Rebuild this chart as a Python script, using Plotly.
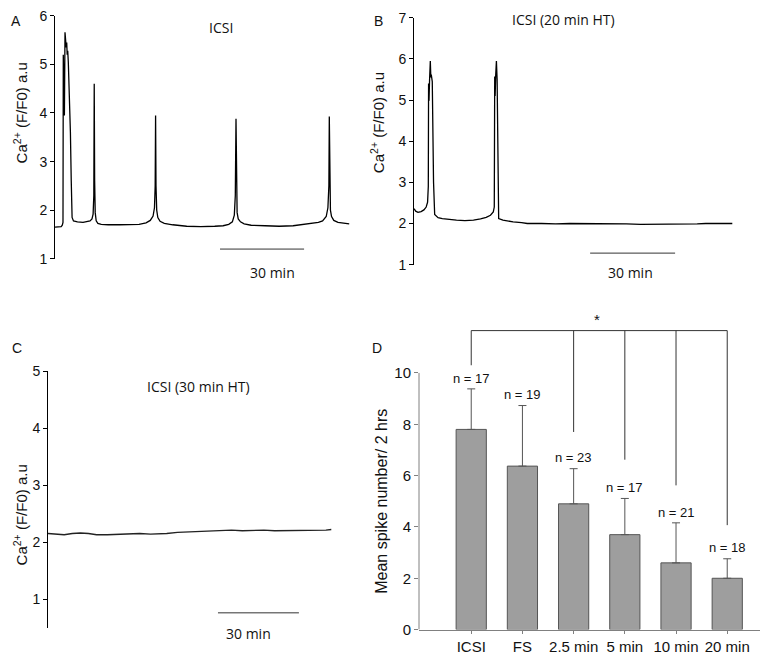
import plotly.graph_objects as go

# ---------------- data ----------------
# Panel A: ICSI trace (time in min, Ca2+ F/F0)
tA = [0, 1.5, 2.2, 2.6, 2.85, 2.96, 3.1, 3.35, 3.57, 3.7, 3.82, 4.0, 4.18, 4.35, 4.54, 4.75,
      5.1, 5.5, 5.8, 6.1, 6.6, 8, 10, 11.5, 12.5, 13.2, 13.6, 13.85, 14.0, 14.15, 14.35, 14.7,
      15.3, 16.5, 19, 23, 27, 30, 32.5, 34, 35, 35.5, 35.75, 35.9, 36.05, 36.3, 36.7, 37.5,
      39, 42, 47, 52, 57, 60, 62, 63.3, 64.0, 64.35, 64.6, 64.8, 65.0, 65.4, 66.2, 67.5,
      70, 75, 80, 85, 88, 91, 94, 95.5, 96.8, 97.4, 97.75, 97.9, 98.05, 98.3, 98.7, 99.5,
      101, 103, 105]
vA = [1.65, 1.65, 1.66, 1.69, 1.75, 5.2, 4.2, 3.95, 5.66, 5.45, 5.6, 5.35, 5.45, 5.2, 5.28, 5.05,
      4.5, 3.6, 2.6, 1.85, 1.78, 1.76, 1.75, 1.76, 1.78, 1.82, 1.92, 2.3, 4.6, 2.6, 1.95, 1.78,
      1.73, 1.71, 1.70, 1.70, 1.70, 1.71, 1.74, 1.79, 1.88, 2.05, 2.5, 3.95, 2.5, 2.0, 1.85, 1.77,
      1.73, 1.70, 1.67, 1.66, 1.67, 1.68, 1.71, 1.76, 1.9, 2.3, 3.88, 2.3, 1.95, 1.82, 1.76, 1.72,
      1.69, 1.68, 1.67, 1.68, 1.70, 1.72, 1.75, 1.78, 1.87, 2.05, 2.5, 3.93, 2.5, 2.0, 1.87, 1.79,
      1.75, 1.73, 1.72]

# Panel B: ICSI (20 min HT)
tB = [0, 0.6, 1.4, 2.5, 3.5, 4.3, 4.8, 5.05, 5.15, 5.3, 5.5, 5.76, 5.95, 6.1, 6.45, 6.6, 6.9, 7.3,
      8.5, 10, 12, 15, 18, 21, 23.5, 25.5, 27, 28.0, 28.35, 28.5, 28.65, 28.85, 29.1, 29.35, 29.6,
      29.9, 31.4, 33, 35, 38, 40, 45, 50, 55, 60, 65, 70, 75, 80, 85, 90, 95, 100, 103, 106, 109, 112.4]
vB = [2.36, 2.30, 2.27, 2.29, 2.33, 2.40, 2.52, 2.9, 5.4, 4.98, 5.5, 5.95, 5.55, 5.62, 5.45, 4.5, 3.0, 2.22,
      2.14, 2.12, 2.10, 2.08, 2.07, 2.08, 2.11, 2.15, 2.2, 2.28, 2.4, 5.57, 5.1, 5.6, 5.95, 5.5, 4.0,
      2.12, 2.08, 2.06, 2.04, 2.02, 2.00, 2.00, 1.99, 2.00, 2.00, 1.99, 2.00, 1.99, 1.98, 1.98, 1.99, 1.98, 1.99, 2.00, 2.00, 2.01, 2.00]

# Panel C: ICSI (30 min HT)
tC = [0, 3, 6, 9, 12, 15, 18, 22, 26, 30, 34, 38, 41, 44, 48, 52, 56, 60, 64, 68, 72, 76, 80, 84,
      88, 92, 96, 100, 103, 105]
vC = [2.15, 2.14, 2.13, 2.15, 2.16, 2.15, 2.13, 2.13, 2.14, 2.14, 2.15, 2.14, 2.14, 2.15, 2.17, 2.18,
      2.18, 2.19, 2.2, 2.21, 2.2, 2.21, 2.21, 2.2, 2.2, 2.21, 2.2, 2.21, 2.21, 2.22]

# 30-min scale bars (start, end) in minutes
scaleA = [58.9, 88.9]
scaleB = [62.2, 92.2]
scaleC = [63.0, 93.0]

# Panel D: bar chart
categories = ["ICSI", "FS", "2.5 min", "5 min", "10 min", "20 min"]
mean_spikes = [7.8, 6.37, 4.9, 3.7, 2.6, 2.0]
sem_spikes = [1.58, 2.36, 1.37, 1.41, 1.56, 0.76]
n_cells = [17, 19, 23, 17, 21, 18]

# significance bracket: category index -> lower end of vertical
bracket_idx = [0, 2, 3, 4, 5]
bracket_ends = [10.3, 7.7, 6.62, 5.62, 4.07]
bracket_top = 11.65

# ---------------- figure ----------------
W, H = 780, 662
def px(x):
    return x / W
def py(y):
    return 1 - y / H

TICKFONT = "Arial, 'Liberation Sans', sans-serif"
TITLEFONT = "'Open Sans', sans-serif"

fig = go.Figure()
fig.add_trace(go.Scatter(x=tA, y=vA, xaxis="x", yaxis="y", mode="lines",
                         line=dict(color="black", width=1.3), showlegend=False))
fig.add_trace(go.Scatter(x=tB, y=vB, xaxis="x2", yaxis="y2", mode="lines",
                         line=dict(color="black", width=1.3), showlegend=False))
fig.add_trace(go.Scatter(x=tC, y=vC, xaxis="x3", yaxis="y3", mode="lines",
                         line=dict(color="#222", width=1.4), showlegend=False))
fig.add_trace(go.Bar(x=list(range(len(categories))), y=mean_spikes, xaxis="x4", yaxis="y4",
                     width=0.59, showlegend=False,
                     marker=dict(color="#9e9e9e", line=dict(color="#555", width=1)),
                     error_y=dict(type="data", symmetric=False, array=sem_spikes,
                                  arrayminus=[0] * len(sem_spikes),
                                  color="#555", thickness=1, width=4)))

yax_common = dict(showline=True, linecolor="black", linewidth=1, ticks="outside", ticklen=4,
                  tickcolor="black", showgrid=False, zeroline=False,
                  tickfont=dict(family=TICKFONT, size=14, color="#111"))
xhidden = dict(visible=False, showgrid=False, zeroline=False)

fig.update_layout(
    width=W, height=H, margin=dict(l=0, r=0, t=0, b=0),
    paper_bgcolor="white", plot_bgcolor="white",
    xaxis=dict(domain=[px(55), px(352)], range=[0, 106], anchor="y", **xhidden),
    yaxis=dict(domain=[py(257), py(8)], range=[1, 6], dtick=1, anchor="x", **yax_common),
    xaxis2=dict(domain=[px(414), px(734)], range=[0, 113], anchor="y2", **xhidden),
    yaxis2=dict(domain=[py(263), py(10)], range=[1, 7], dtick=1, anchor="x2", **yax_common),
    xaxis3=dict(domain=[px(48), px(334)], range=[0, 106], anchor="y3", **xhidden),
    yaxis3=dict(domain=[py(635), py(372)], range=[0.5, 5], tickvals=[1, 2, 3, 4, 5], anchor="x3",
                **yax_common),
    xaxis4=dict(domain=[px(419), px(760)], range=[-1.02, 5.64], anchor="y4",
                tickvals=list(range(len(categories))), ticktext=categories,
                showline=True, linecolor="#808080", linewidth=1, ticks="outside", ticklen=3,
                tickcolor="#808080", showgrid=False, zeroline=False,
                tickfont=dict(family=TICKFONT, size=15, color="#111")),
    yaxis4=dict(domain=[py(637), py(313.5)], range=[0, 12.3], tickvals=[0, 2, 4, 6, 8, 10],
                anchor="x4", showline=False, ticks="outside", ticklen=4, tickcolor="#808080",
                showgrid=False, zeroline=False,
                tickfont=dict(family=TICKFONT, size=15, color="#111")),
)

shapes = []
# y axis line of panel D (only up to 10)
shapes.append(dict(type="line", xref="x4 domain", yref="y4", x0=0, x1=0, y0=0, y1=10,
                   line=dict(color="#808080", width=1)))
# significance bracket
shapes.append(dict(type="line", xref="x4", yref="y4", x0=bracket_idx[0], x1=bracket_idx[-1],
                   y0=bracket_top, y1=bracket_top, line=dict(color="#333", width=1)))
for i, e in zip(bracket_idx, bracket_ends):
    shapes.append(dict(type="line", xref="x4", yref="y4", x0=i, x1=i, y0=e, y1=bracket_top,
                       line=dict(color="#333", width=1)))
# scale bars
for (xr, yr, sb, yv) in [("x", "y", scaleA, 1.2), ("x2", "y2", scaleB, 1.28), ("x3", "y3", scaleC, 0.76)]:
    shapes.append(dict(type="line", xref=xr, yref=yr, x0=sb[0], x1=sb[1], y0=yv, y1=yv,
                       line=dict(color="#333", width=1)))
fig.update_layout(shapes=shapes)

ann = []
def txt(x, y, s, size, family=TICKFONT, angle=0, color="#111"):
    ann.append(dict(x=px(x), y=py(y), xref="paper", yref="paper", text=s, showarrow=False,
                    xanchor="center", yanchor="middle", textangle=angle,
                    font=dict(family=family, size=size, color=color)))

# panel letters
txt(16, 13, "A", 14)
txt(378, 13, "B", 14)
txt(17, 348, "C", 14)
txt(377, 348, "D", 14)
# panel titles
txt(221, 20, "ICSI", 14, TITLEFONT)
txt(563, 12, "ICSI (20 min HT)", 14, TITLEFONT)
txt(198, 388, "ICSI (30 min HT)", 14, TITLEFONT)
# scale bar labels
txt(272, 271, "30 min", 14, TITLEFONT)
txt(630, 271, "30 min", 14, TITLEFONT)
txt(249, 641, "30 min", 14, TITLEFONT)
# y axis titles
ytitle = "Ca<sup>2+</sup> (F/F0) a.u"
txt(20, 108, ytitle, 15, angle=-90)
txt(377, 118, ytitle, 15, angle=-90)
txt(20, 520, ytitle, 15, angle=-90)
txt(382, 506, "Mean spike number/ 2 hrs", 16, angle=-90)

# n labels above error bars
for i, (m, s, n) in enumerate(zip(mean_spikes, sem_spikes, n_cells)):
    ann.append(dict(x=i, y=m + s + 0.42, xref="x4", yref="y4", text=f"n = {n}", showarrow=False,
                    xanchor="center", yanchor="middle",
                    font=dict(family=TICKFONT, size=13, color="#111")))
# significance star
ann.append(dict(x=2.46, y=12.1, xref="x4", yref="y4", text="*", showarrow=False,
                xanchor="center", yanchor="middle", font=dict(family=TICKFONT, size=15, color="#111")))
fig.update_layout(annotations=ann)

fig.write_html("out.html", config={"displayModeBar": False},
               post_script="document.body.style.margin='0';document.body.style.padding='0';")
